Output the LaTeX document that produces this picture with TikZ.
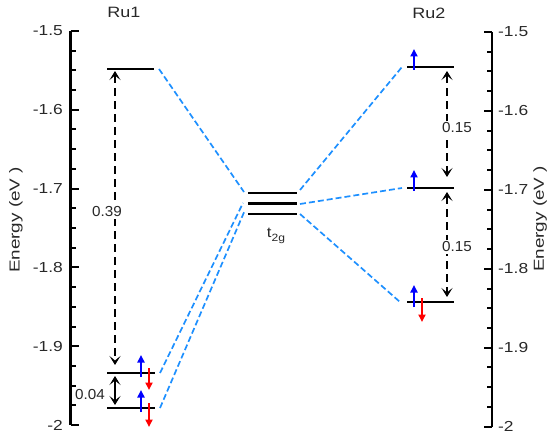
\documentclass[tikz,border=0pt]{standalone}
\usepackage{fontspec}
\setmainfont{Liberation Sans}
\usetikzlibrary{arrows.meta}
\definecolor{conncol}{RGB}{30,144,255}
\definecolor{txtcol}{RGB}{40,40,40}
\begin{document}
\begin{tikzpicture}[x=1pt,y=-1pt,
  level/.style={line width=2.6pt,black},
  conn/.style={conncol,line width=1.7pt,dash pattern=on 6pt off 3pt},
  gaptip/.style={},
  gaparrow/.style={black,line width=1.4pt,dash pattern=on 8pt off 5pt,
     {Stealth[length=9pt,width=11pt,inset=4.5pt]}-{Stealth[length=9pt,width=11pt,inset=4.5pt]}},
  gapsolid/.style={black,line width=1.4pt,
     {Stealth[length=9pt,width=11pt,inset=4.5pt]}-{Stealth[length=9pt,width=11pt,inset=4.5pt]}},
  spinup/.style={blue,line width=2pt,-{Triangle[length=7.5pt,width=7pt]}},
  spindown/.style={red,line width=2pt,-{Triangle[length=7.5pt,width=7pt]}},
  axisline/.style={black,line width=2.6pt},
  tickline/.style={black,line width=2pt},
  lbl/.style={text=txtcol,font=\fontsize{14.5}{16}\selectfont,inner sep=1pt},
  numlbl/.style={lbl,fill=white,inner sep=1.5pt}
]
\useasboundingbox (0,0) rectangle (549,441);

% ---------- axes ----------
\draw[axisline] (70.5,31) -- (70.5,425);
\foreach \k in {0,...,20}{
  \pgfmathsetmacro\len{mod(\k,4)==0 ? 8 : 5}
  \draw[tickline] (70.5,31+\k*19.7) -- ++(\len,0);
}
\foreach \k/\t in {0/-1.5,1/-1.6,2/-1.7,3/-1.8,4/-1.9,5/-2}{
  \node[lbl,anchor=east] (ll\k) at (64,31+\k*78.8) {\scalebox{1.2}[1]{\t}};
}
\draw[axisline] (492,32) -- (492,426.7);
\foreach \k in {0,...,20}{
  \pgfmathsetmacro\len{mod(\k,4)==0 ? 8 : 5}
  \draw[tickline] (492,32+\k*19.735) -- ++(-\len,0);
}
\foreach \k/\t in {0/-1.5,1/-1.6,2/-1.7,3/-1.8,4/-1.9,5/-2}{
  \node[lbl,anchor=west] (rl\k) at (497,32+\k*78.94) {\scalebox{1.2}[1]{\t}};
}
\node[lbl,rotate=90] (ylabL) at (16,220) {\scalebox{1.3}[1]{Energy (eV )}};
\node[lbl,rotate=90] (ylabR) at (540,219) {\scalebox{1.3}[1]{Energy (eV )}};

% ---------- titles ----------
\node[lbl,font=\fontsize{15}{17}\selectfont] (ru1) at (124,12) {\scalebox{1.2}[1]{Ru1}};
\node[lbl,font=\fontsize{15}{17}\selectfont] (ru2) at (429,13) {\scalebox{1.2}[1]{Ru2}};

% ---------- levels ----------
\coordinate (Al) at (107,69);  \coordinate (Ar) at (154,69);
\coordinate (Bl) at (107,373); \coordinate (Br) at (155,373);
\coordinate (Cl) at (107,408); \coordinate (Cr) at (155,408);
\coordinate (T1l) at (248,193);   \coordinate (T1r) at (297,193);
\coordinate (T2l) at (248,203.5); \coordinate (T2r) at (297,203.5);
\coordinate (T3l) at (248,214);   \coordinate (T3r) at (297,214);
\coordinate (Dl) at (407,67);  \coordinate (Dr) at (454,67);
\coordinate (El) at (407,188); \coordinate (Er) at (454,188);
\coordinate (Fl) at (407,302); \coordinate (Fr) at (454,302);
\foreach \n in {A,B,C,T1,T2,T3,D,E,F}{\draw[level] (\n l) -- (\n r);}
\node[lbl] (t2g) at (276,236) {\scalebox{1.15}[1]{t\raisebox{-0.45ex}{\fontsize{10.5}{10}\selectfont 2g}}};

% ---------- correlation lines ----------
\coordinate (cA) at (159,69);   \coordinate (cT1a) at (244,192);
\coordinate (cB) at (160,373);  \coordinate (cT2a) at (243,203);
\coordinate (cC) at (160,408);  \coordinate (cT3a) at (245,210);
\coordinate (cT1b) at (300,190); \coordinate (cD) at (402,67);
\coordinate (cT2b) at (300,204); \coordinate (cE) at (402,188);
\coordinate (cT3b) at (300,214); \coordinate (cF) at (400,302);
\draw[conn] (cA) -- (cT1a);
\draw[conn] (cB) -- (cT2a);
\draw[conn] (cC) -- (cT3a);
\draw[conn] (cT1b) -- (cD);
\draw[conn] (cT2b) -- (cE);
\draw[conn] (cT3b) -- (cF);

% ---------- gap arrows ----------
\coordinate (g1t) at (115,71);  \coordinate (g1b) at (115,365);
\coordinate (g2t) at (115,376); \coordinate (g2b) at (115,405);
\coordinate (g3t) at (447,71);  \coordinate (g3b) at (447,177);
\coordinate (g4t) at (447,192); \coordinate (g4b) at (447,297);
\draw[gaparrow] (g1t) -- (g1b);
\draw[gapsolid] (g2t) -- (g2b);
\draw[gaparrow] (g3t) -- (g3b);
\draw[gaparrow] (g4t) -- (g4b);
\node[numlbl] (n039) at (107,212) {\scalebox{1.05}[1]{0.39}};
\node[lbl] (n004) at (90,395) {\scalebox{1.05}[1]{0.04}};
\node[numlbl] (n015a) at (457,128) {\scalebox{1.05}[1]{0.15}};
\node[numlbl] (n015b) at (457,247) {\scalebox{1.05}[1]{0.15}};

% ---------- spins ----------
\draw[spinup]   ([shift={(34,4)}]Bl) -- ++(0,-22);
\draw[spindown] ([shift={(42,-5)}]Bl) -- ++(0,22);
\draw[spinup]   ([shift={(34,4)}]Cl) -- ++(0,-22);
\draw[spindown] ([shift={(42,-5)}]Cl) -- ++(0,24);
\draw[spinup]   ([shift={(7,3)}]Dl) -- ++(0,-21);
\draw[spinup]   ([shift={(7,3)}]El) -- ++(0,-21);
\draw[spinup]   ([shift={(7,5)}]Fl) -- ++(0,-22);
\draw[spindown] ([shift={(15,-4)}]Fl) -- ++(0,24);
\end{tikzpicture}
\end{document}
